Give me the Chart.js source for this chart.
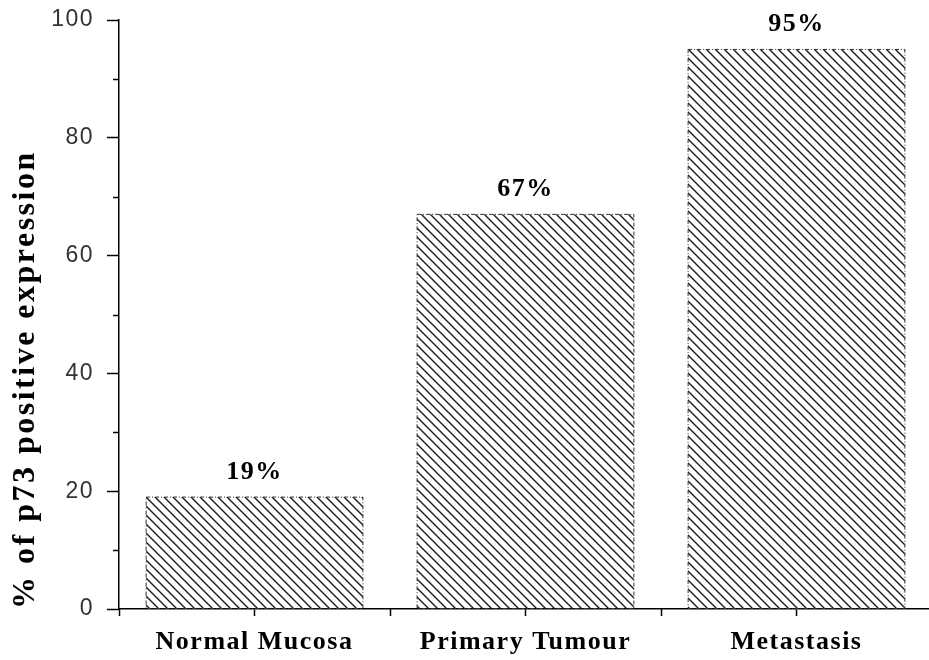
<!DOCTYPE html>
<html lang="en">
<head>
    <meta charset="UTF-8">
    <title>p73 positive expression</title>
    <script src="https://cdn.jsdelivr.net/npm/chart.js"></script>
    <style>
        html, body { margin: 0; padding: 0; background: #fff; overflow: hidden; }
    </style>
</head>
<body>
    <canvas id="p73Chart" width="932" height="660"></canvas>
    <script>
        // data
        const categories = ['Normal Mucosa', 'Primary Tumour', 'Metastasis'];
        const positivePct = [19, 67, 95];
        const yTicks = [0, 20, 40, 60, 80, 100];
        const yMinorTicks = [10, 30, 50, 70, 90];

        const serif = "'Liberation Serif', 'Times New Roman', serif";
        const narrow = "'Liberation Sans Narrow', 'Liberation Sans', Arial, sans-serif";

        const ctx = document.getElementById('p73Chart').getContext('2d');

        // "\\\\" hatch fill like the original
        function makeHatch() {
            const size = 9;
            const c = document.createElement('canvas');
            c.width = size; c.height = size;
            const g = c.getContext('2d');
            g.strokeStyle = '#1a1a1a';
            g.lineWidth = 1.4;
            g.beginPath();
            g.moveTo(-1, -1); g.lineTo(size + 1, size + 1);
            g.moveTo(-1, size - 1); g.lineTo(1, size + 1);
            g.moveTo(size - 1, -1); g.lineTo(size + 1, 1);
            g.stroke();
            return ctx.createPattern(c, 'repeat');
        }

        // canvas letter spacing for the axis texts
        function spaced(fn, px) {
            return function () {
                const c = this.ctx;
                c.letterSpacing = px;
                fn.apply(this, arguments);
                c.letterSpacing = '0px';
            };
        }

        const extras = {
            id: 'extras',
            beforeDraw(chart) {
                if (chart._spaced) return;
                chart._spaced = true;
                const { x, y } = chart.scales;
                x.drawLabels = spaced(x.drawLabels, '1.5px');
                y.drawLabels = spaced(y.drawLabels, '1.5px');
                y.drawTitle = spaced(y.drawTitle, '2.5px');
            },
            afterDatasetsDraw(chart) {
                const c = chart.ctx;
                const meta = chart.getDatasetMeta(0);
                c.save();
                // dash-dot outline of each bar
                c.strokeStyle = '#333';
                c.lineWidth = 1;
                c.setLineDash([4, 2, 1, 2]);
                meta.data.forEach(bar => {
                    const p = bar.getProps(['x', 'y', 'base', 'width'], true);
                    c.strokeRect(p.x - p.width / 2, p.y, p.width, p.base - p.y);
                });
                c.setLineDash([]);
                // value labels
                c.fillStyle = '#000';
                c.font = 'bold 26px ' + serif;
                c.textAlign = 'center';
                c.textBaseline = 'middle';
                c.letterSpacing = '1.5px';
                meta.data.forEach((bar, i) => {
                    const p = bar.getProps(['x', 'y'], true);
                    c.fillText(positivePct[i] + '%', p.x, p.y - 25);
                });
                c.restore();
            },
            afterDraw(chart) {
                const c = chart.ctx;
                const { x, y } = chart.scales;
                c.save();
                c.strokeStyle = '#000';
                c.lineWidth = 1.5;
                c.beginPath();
                // minor ticks on y
                yMinorTicks.forEach(v => {
                    const py = Math.round(y.getPixelForValue(v)) + 0.5;
                    c.moveTo(y.right - 6, py);
                    c.lineTo(y.right, py);
                });
                // ticks at category boundaries on x
                for (let i = 0; i <= categories.length; i++) {
                    const px = Math.round(x.getPixelForValue(i - 0.5)) + 0.5;
                    c.moveTo(px, x.top);
                    c.lineTo(px, x.top + 7);
                }
                c.stroke();
                c.restore();
            }
        };

        new Chart(ctx, {
            type: 'bar',
            data: {
                labels: categories,
                datasets: [{
                    label: '% of p73 positive expression',
                    data: positivePct,
                    backgroundColor: makeHatch(),
                    borderWidth: 0,
                    barPercentage: 0.8,
                    categoryPercentage: 1.0
                }]
            },
            options: {
                responsive: false,
                animation: false,
                layout: { padding: { top: 20, right: 0, bottom: 0, left: 0 } },
                plugins: {
                    legend: { display: false },
                    tooltip: { enabled: false }
                },
                scales: {
                    x: {
                        grid: { drawOnChartArea: false, offset: false, tickLength: 7, tickColor: '#000', tickWidth: 1.5 },
                        border: { color: '#000', width: 1.5 },
                        ticks: {
                            color: '#000',
                            padding: 11,
                            font: { family: serif, weight: 'bold', size: 26 }
                        },
                        afterFit: s => { s.height = 51; }
                    },
                    y: {
                        min: 0,
                        max: 100,
                        afterBuildTicks: s => { s.ticks = yTicks.map(v => ({ value: v })); },
                        grid: { drawOnChartArea: false, tickLength: 12, tickColor: '#000', tickWidth: 1.5 },
                        border: { color: '#000', width: 1.5 },
                        ticks: {
                            color: '#333',
                            padding: 13,
                            font: { family: narrow, size: 23, lineHeight: 0.5 }
                        },
                        title: {
                            display: true,
                            text: '% of p73 positive expression',
                            align: 'start',
                            color: '#000',
                            font: { family: serif, weight: 'bold', size: 32, lineHeight: 1 },
                            padding: { top: 10, bottom: 0 }
                        },
                        afterFit: s => { s.width = 119; }
                    }
                }
            },
            plugins: [extras]
        });
    </script>
</body>
</html>
